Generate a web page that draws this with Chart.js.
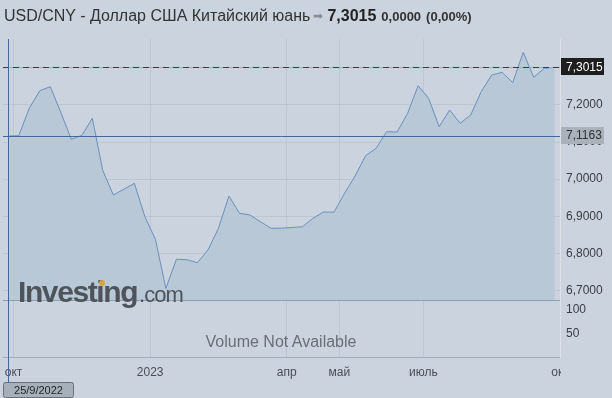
<!DOCTYPE html>
<html><head><meta charset="utf-8">
<script src="https://cdn.jsdelivr.net/npm/chart.js@4.4.1/dist/chart.umd.min.js"></script>
<style>
html,body{margin:0;padding:0;background:#cbd3de;}
#wrap{position:relative;width:612px;height:398px;overflow:hidden;font-family:'Liberation Sans',Arial,sans-serif;background:#cbd3de;}
#c{position:absolute;left:0;top:0;}
#title{position:absolute;left:4px;top:7px;font-size:16px;color:#333;white-space:nowrap;}
#title .arr{color:#8a8f96;font-size:12px;margin:0 4px 0 3px;position:relative;top:-1px;}
#title .p{font-weight:bold;font-size:16px;color:#222;}
#title .ch{font-weight:bold;font-size:13px;color:#333;margin-left:5px;}
#wm{position:absolute;left:18px;top:275px;color:#4f545b;white-space:nowrap;}
#wm .a{font-weight:bold;font-size:30px;letter-spacing:-1.4px;}
#wm .b{font-size:22px;letter-spacing:-1px;margin-left:2px;}
#dot{position:absolute;width:6px;height:6px;border-radius:3px;background:#d7a43e;left:99px;top:280px;}
#vol{position:absolute;left:0;width:562px;top:333px;text-align:center;font-size:16px;color:#6a6f76;}
</style></head>
<body>
<div id="wrap">
<canvas id="c" width="612" height="398"></canvas>
<div id="title">USD/CNY - Доллар США Китайский юань<span class="arr">➡</span><span class="p">7,3015</span><span class="ch">0,0000</span><span class="ch">(0,00%)</span></div>
<div id="wm"><span class="a">Investing</span><span class="b">.com</span></div>
<div id="dot"></div>
<div id="vol">Volume Not Available</div>
</div>
<script>
// weekly dates (categories)
const weeks = ['25/9/2022','2/10/2022','9/10/2022','16/10/2022','23/10/2022','30/10/2022','6/11/2022','13/11/2022','20/11/2022','27/11/2022','4/12/2022','11/12/2022','18/12/2022','25/12/2022','1/1/2023','8/1/2023','15/1/2023','22/1/2023','29/1/2023','5/2/2023','12/2/2023','19/2/2023','26/2/2023','5/3/2023','12/3/2023','19/3/2023','26/3/2023','2/4/2023','9/4/2023','16/4/2023','23/4/2023','30/4/2023','7/5/2023','14/5/2023','21/5/2023','28/5/2023','4/6/2023','11/6/2023','18/6/2023','25/6/2023','2/7/2023','9/7/2023','16/7/2023','23/7/2023','30/7/2023','6/8/2023','13/8/2023','20/8/2023','27/8/2023','3/9/2023','10/9/2023','17/9/2023','24/9/2023'];
// weekly close values
const closes = [7.1163,7.1170,7.191,7.2384,7.2492,7.180,7.1075,7.118,7.164,7.0228,6.9573,6.973,6.9888,6.8988,6.838,6.7058,6.784,6.783,6.7748,6.809,6.8675,6.9546,6.908,6.9035,6.8853,6.8675,6.868,6.8697,6.8718,6.8945,6.9115,6.911,6.9619,7.0085,7.0632,7.0832,7.1279,7.127,7.1775,7.2519,7.218,7.1414,7.1864,7.1506,7.1729,7.2357,7.2807,7.288,7.26,7.342,7.2745,7.2988,7.3015];
// axis ticks
const monthTickPos = [0.5,13.5,26.5,31.5,39.5,52.5];
const monthLabels = ['окт','2023','апр','май','июль','окт'];
const priceTicks = [6.7,6.8,6.9,7.0,7.1,7.2,7.3];
const volumeTicks = [50,100];
const lastPrice = 7.3015;
const crossIndex = 0;
const crossPrice = closes[crossIndex];

const fmt = v => v.toFixed(4).replace('.', ',');
const BG = '#cbd3de';

const overlay = {
  id: 'overlay',
  afterDatasetsDraw(chart) {
    const {ctx, chartArea: ca, scales: {x, y}} = chart;
    ctx.save();
    ctx.strokeStyle = '#8d9db0'; ctx.lineWidth = 1;
    ctx.beginPath(); ctx.moveTo(ca.left, Math.round(y.bottom) + 0.5); ctx.lineTo(ca.right, Math.round(y.bottom) + 0.5); ctx.stroke();
    const yl = Math.round(y.getPixelForValue(lastPrice)) + 0.5;
    ctx.strokeStyle = '#c99aa8';
    ctx.beginPath(); ctx.moveTo(ca.left, yl); ctx.lineTo(ca.right, yl); ctx.stroke();
    ctx.strokeStyle = '#3a3a3e'; ctx.setLineDash([6, 4]);
    ctx.beginPath(); ctx.moveTo(ca.left, yl); ctx.lineTo(ca.right, yl); ctx.stroke();
    ctx.setLineDash([]);
    const yc = Math.round(y.getPixelForValue(crossPrice)) + 0.5;
    ctx.strokeStyle = '#44679a';
    ctx.beginPath(); ctx.moveTo(ca.left, yc); ctx.lineTo(ca.right, yc); ctx.stroke();
    ctx.restore();
  },
  afterDraw(chart) {
    const {ctx, chartArea: ca, scales: {x, y}} = chart;
    ctx.save();
    ctx.fillStyle = BG;
    ctx.fillRect(ca.right + 1, ca.bottom + 1, 612 - ca.right, 30);
    const xc = Math.round(x.getPixelForValue(crossIndex)) + 0.5;
    ctx.strokeStyle = '#44679a'; ctx.lineWidth = 1;
    ctx.beginPath(); ctx.moveTo(xc, ca.top); ctx.lineTo(xc, ca.bottom + 25); ctx.stroke();
    ctx.font = '12px "Liberation Sans", Arial, sans-serif';
    ctx.textBaseline = 'middle'; ctx.textAlign = 'left';
    const yl = y.getPixelForValue(lastPrice);
    ctx.fillStyle = '#1e1e1e';
    ctx.fillRect(ca.right + 1, Math.round(yl) - 9, 43, 17);
    ctx.fillStyle = '#ffffff';
    ctx.fillText(fmt(lastPrice), ca.right + 6, yl);
    const yc = y.getPixelForValue(crossPrice);
    ctx.fillStyle = '#a9b1ba';
    ctx.fillRect(ca.right + 1, Math.round(yc) - 9, 43, 17);
    ctx.fillStyle = '#2e3238';
    ctx.fillText(fmt(crossPrice), ca.right + 6, yc);
    const bx = ca.left + 0.5, by = ca.bottom + 25.5, bw = 70, bh = 15;
    ctx.fillStyle = '#a6b0ba';
    ctx.strokeStyle = '#66717d';
    ctx.beginPath();
    if (ctx.roundRect) ctx.roundRect(bx, by, bw, bh, 2); else ctx.rect(bx, by, bw, bh);
    ctx.fill(); ctx.stroke();
    ctx.fillStyle = '#1f2328';
    ctx.font = '11px "Liberation Sans", Arial, sans-serif';
    ctx.textAlign = 'center';
    ctx.fillText(weeks[crossIndex], bx + bw / 2, by + bh / 2 + 0.5);
    ctx.restore();
  }
};

new Chart(document.getElementById('c'), {
  type: 'line',
  data: {
    datasets: [{
      data: closes.map((v, i) => ({x: i, y: v})),
      borderColor: '#6a8fbe',
      borderWidth: 1,
      backgroundColor: '#b9c8d7',
      fill: 'start',
      pointRadius: 0,
      tension: 0,
      xAxisID: 'x',
      yAxisID: 'y'
    }]
  },
  options: {
    responsive: false,
    animation: false,
    devicePixelRatio: 1,
    layout: {padding: {left: 3, top: 39, right: 0, bottom: 0}},
    plugins: {legend: {display: false}, tooltip: {enabled: false}},
    scales: {
      x: {
        type: 'linear', position: 'bottom', min: -0.5, max: 52.5,
        afterBuildTicks: a => { a.ticks = monthTickPos.map(v => ({value: v})); },
        afterFit: s => { s.height = 41; s.paddingLeft = 0; s.paddingRight = 0; },
        grid: {color: 'rgba(70,90,120,0.10)', drawTicks: false},
        border: {display: true, color: '#9fadbc'},
        ticks: {
          autoSkip: false, maxRotation: 0, padding: 8,
          color: '#4a4f56', font: {size: 12, family: '"Liberation Sans", Arial, sans-serif'},
          callback: v => { const i = monthTickPos.indexOf(v); return i >= 0 ? monthLabels[i] : ''; }
        }
      },
      y: {
        type: 'linear', position: 'right', stack: 'panels', stackWeight: 261,
        min: 6.6743, max: 7.3778,
        afterBuildTicks: a => { a.ticks = priceTicks.map(v => ({value: v})); },
        afterFit: s => { s.width = 52; s.paddingTop = 0; s.paddingBottom = 0; },
        grid: {color: 'rgba(70,90,120,0.10)', drawTicks: false},
        border: {display: true, color: '#dde2e9'},
        ticks: {
          padding: 6, color: '#3a3e44',
          font: {size: 12, family: '"Liberation Sans", Arial, sans-serif'},
          callback: v => fmt(v)
        }
      },
      yv: {
        type: 'linear', position: 'right', stack: 'panels', stackWeight: 57,
        min: 0, max: 121,
        afterBuildTicks: a => { a.ticks = volumeTicks.map(v => ({value: v})); },
        afterFit: s => { s.width = 52; s.paddingTop = 0; s.paddingBottom = 0; },
        grid: {drawOnChartArea: false, drawTicks: false},
        border: {display: true, color: '#dde2e9'},
        ticks: {
          padding: 6, color: '#3a3e44',
          font: {size: 12, family: '"Liberation Sans", Arial, sans-serif'},
          callback: v => String(v)
        }
      }
    }
  },
  plugins: [overlay]
});
</script>
</body></html>
